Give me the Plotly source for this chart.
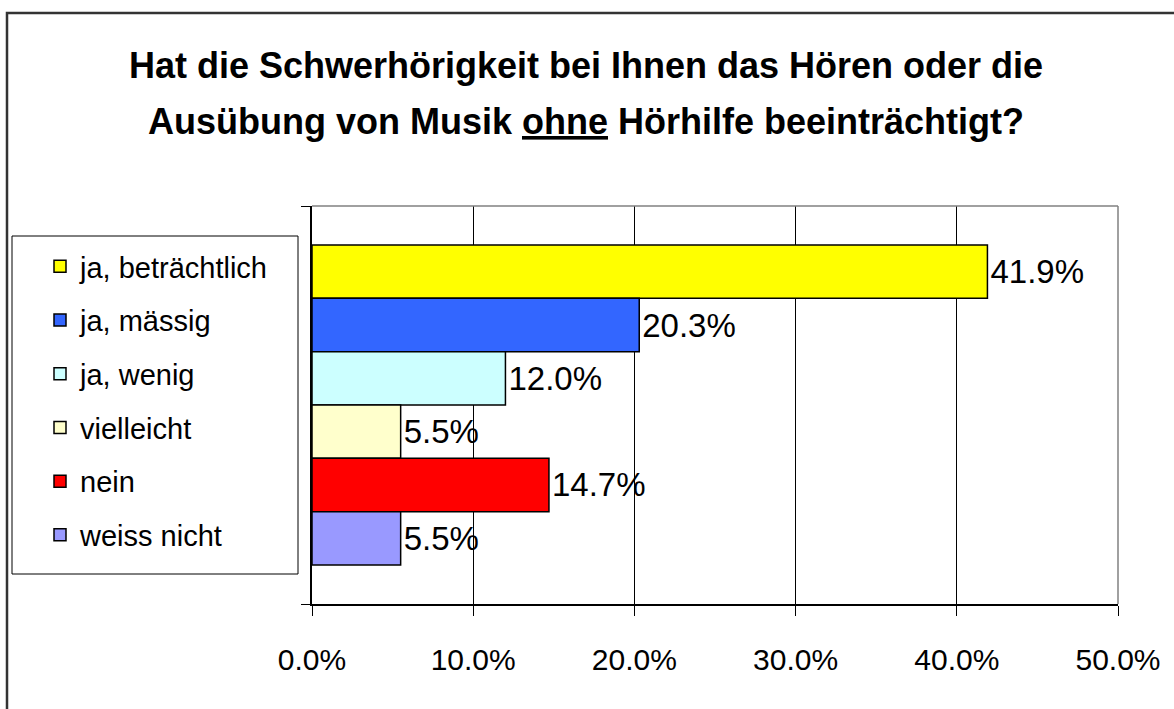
import plotly.graph_objects as go

# ---- data ----
categories = ["ja, beträchtlich", "ja, mässig", "ja, wenig", "vielleicht", "nein", "weiss nicht"]
values = [41.9, 20.3, 12.0, 5.5, 14.7, 5.5]
colors = ["#FFFF00", "#3366FF", "#CCFFFF", "#FFFFCC", "#FF0000", "#9999FF"]
x_tick_vals = [0, 10, 20, 30, 40, 50]
x_tick_labels = ["0.0%", "10.0%", "20.0%", "30.0%", "40.0%", "50.0%"]
title_line1 = "Hat die Schwerhörigkeit bei Ihnen das Hören oder die"
title_line2 = "Ausübung von Musik <u>ohne</u> Hörhilfe beeinträchtigt?"

FONT = "Liberation Sans, Arial, sans-serif"

W, H = 1174, 709
L, R, T, B = 312, 56, 206, 105
pw, ph = W - L - R, H - T - B


def px(xpix):
    return (xpix - L) / pw


def py(ypix):
    return (H - B - ypix) / ph


fig = go.Figure()
for name, v, c in zip(categories, values, colors):
    fig.add_trace(go.Bar(
        x=[v], y=[0], orientation="h", name=name,
        marker=dict(color=c, line=dict(color="black", width=1.5)),
        text=[f"{v:.1f}%"], textposition="outside",
        textfont=dict(size=33, family=FONT, color="black"),
        constraintext="none", cliponaxis=False,
        legendgroup=name, hoverinfo="skip",
    ))

fig.update_layout(
    width=W, height=H, autosize=False,
    margin=dict(l=L, r=R, t=T, b=B),
    paper_bgcolor="white", plot_bgcolor="white",
    barmode="group", bargap=0.196, bargroupgap=0,
    title=dict(text=title_line1, x=586 / W, xanchor="center",
               y=1 - 65 / H, yanchor="middle",
               font=dict(family=FONT, size=36, color="black", weight="bold")),
    annotations=[
        dict(text=title_line2, xref="paper", yref="paper",
             x=px(586), y=py(122), xanchor="center", yanchor="middle",
             showarrow=False,
             font=dict(family=FONT, size=36, color="black", weight="bold")),
    ],
    showlegend=True,
    legend=dict(x=px(40), xanchor="left", y=py(241), yanchor="top",
                font=dict(family=FONT, size=29, color="black"),
                bgcolor="rgba(0,0,0,0)", borderwidth=0,
                tracegroupgap=13, traceorder="grouped"),
    xaxis=dict(range=[0, 50], tickvals=x_tick_vals, ticktext=x_tick_labels,
               showgrid=True, gridcolor="black", gridwidth=1,
               showline=True, linecolor="black", linewidth=1.5,
               ticks="outside", ticklen=10, tickcolor="black", tickwidth=1,
               ticklabelstandoff=18, zeroline=False,
               tickfont=dict(family=FONT, size=30, color="black")),
    yaxis=dict(range=[0.5, -0.5], tickvals=[-0.5, 0.5], showticklabels=False,
               showgrid=False, zeroline=False,
               showline=True, linecolor="black", linewidth=1.5,
               ticks="outside", ticklen=9, tickcolor="black", tickwidth=1),
    shapes=[
        # plot-area frame (top and right, grey)
        dict(type="line", xref="paper", yref="paper", x0=0, x1=1, y0=1, y1=1,
             line=dict(color="#808080", width=1.5)),
        dict(type="line", xref="paper", yref="paper", x0=1, x1=1, y0=0, y1=1,
             line=dict(color="#808080", width=1.5)),
        # legend frame
        dict(type="rect", xref="paper", yref="paper",
             x0=px(12), x1=px(298), y0=py(574), y1=py(236),
             line=dict(color="black", width=1), fillcolor="rgba(0,0,0,0)"),
        # outer chart border
        dict(type="rect", xref="paper", yref="paper",
             x0=px(7), x1=px(1200), y0=py(730), y1=py(13),
             line=dict(color="#333333", width=2.5), fillcolor="rgba(0,0,0,0)"),
    ],
)

fig.write_html("out.html", config={"displayModeBar": False},
               post_script="document.body.style.margin='0';")
